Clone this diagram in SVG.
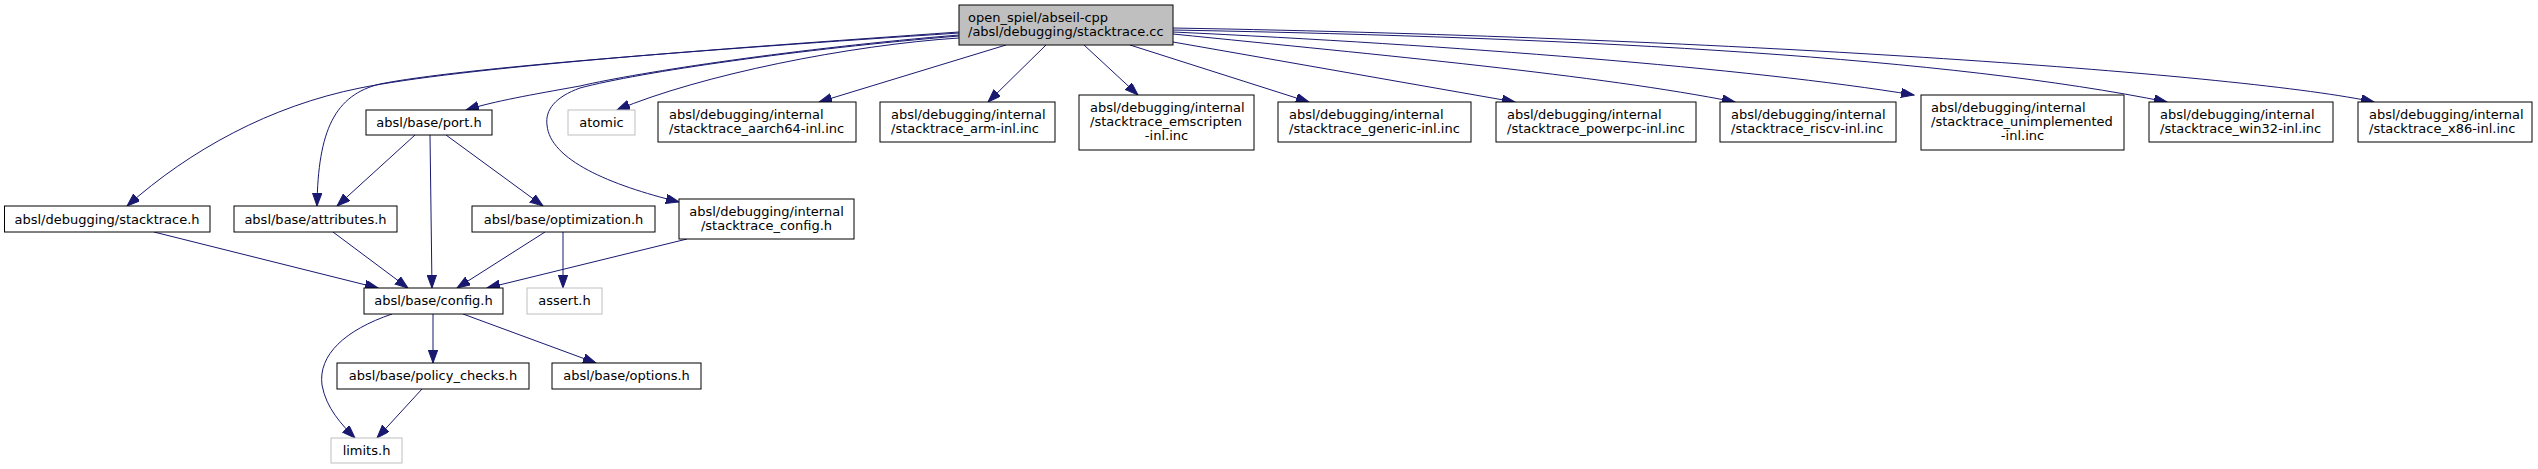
<svg xmlns="http://www.w3.org/2000/svg" width="2538" height="469" viewBox="0 0 2538 469">
<style>
text{font-family:"DejaVu Sans","Liberation Sans",sans-serif;font-size:13px;fill:#000}
.c{text-anchor:middle}
.n{fill:#fff;stroke:#000;stroke-width:1}
.r{fill:#bfbfbf;stroke:#000;stroke-width:1}
.s{fill:#fff;stroke:#bfbfbf;stroke-width:1}
.e{fill:none;stroke:#191970;stroke-width:1;marker-end:url(#a)}
</style>
<defs>
<marker id="a" markerUnits="userSpaceOnUse" markerWidth="14" markerHeight="10" refX="13" refY="4.7" orient="auto" viewBox="0 0 14 10">
<path d="M0,0 L13,4.7 L0,9.4 z" fill="#191970" stroke="#191970" stroke-width="1"/>
</marker>
</defs>
<g id="edges">
<path class="e" d="M959,32 C700,50 460,68 360,88 C270,106 190,150 127,206"/>
<path class="e" d="M959,33 C700,50 460,68 380,84 C335,95 318,130 317,206"/>
<path class="e" d="M959,35 C800,48 640,72 580,86 C530,95 495,101 466,110"/>
<path class="e" d="M959,36 C800,49 640,72 580,88 C555,97 545,110 547,125 C550,160 610,185 679,202"/>
<path class="e" d="M959,38 C850,45 700,75 617,110"/>
<path class="e" d="M1006,45 L819,102"/>
<path class="e" d="M1046,45 L988,102"/>
<path class="e" d="M1084,45 L1138,95"/>
<path class="e" d="M1130,45 L1309,102"/>
<path class="e" d="M1173,42 L1515,102"/>
<path class="e" d="M1173,34 C1380,55 1600,75 1735,102"/>
<path class="e" d="M1173,32 C1450,45 1750,68 1914,95"/>
<path class="e" d="M1173,30 C1600,38 1950,58 2167,102"/>
<path class="e" d="M1173,28 C1750,38 2250,75 2374,102"/>
<path class="e" d="M415,135 L337,206"/>
<path class="e" d="M430,135 L432,288"/>
<path class="e" d="M446,135 L543,206"/>
<path class="e" d="M154,232 L378,288"/>
<path class="e" d="M333,232 L408,288"/>
<path class="e" d="M545,232 L457,288"/>
<path class="e" d="M563,232 L563,288"/>
<path class="e" d="M687,239 L487,288"/>
<path class="e" d="M433,314 L433,363"/>
<path class="e" d="M463,314 L596,363"/>
<path class="e" d="M392,314 C345,330 318,355 322,385 C326,408 342,425 355,438"/>
<path class="e" d="M422,389 L377,438"/>
</g>
<g id="root"><rect class="r" x="959" y="5" width="214" height="40"/><text x="968" y="22">open_spiel/abseil-cpp</text><text x="968" y="36">/absl/debugging/stacktrace.cc</text></g>
<g id="stacktrace_h"><rect class="n" x="4.5" y="206" width="205.5" height="26"/><text class="c" x="107" y="223.5">absl/debugging/stacktrace.h</text></g>
<g id="attributes_h"><rect class="n" x="234" y="206" width="163" height="26"/><text class="c" x="315.5" y="223.5">absl/base/attributes.h</text></g>
<g id="port_h"><rect class="n" x="366" y="110" width="126" height="25"/><text class="c" x="429" y="127">absl/base/port.h</text></g>
<g id="atomic"><rect class="s" x="568" y="110" width="67" height="25"/><text class="c" x="601.5" y="127">atomic</text></g>
<g id="aarch64"><rect class="n" x="658" y="102" width="198" height="40"/><text x="669" y="119">absl/debugging/internal</text><text x="669" y="133">/stacktrace_aarch64-inl.inc</text></g>
<g id="arm"><rect class="n" x="880" y="102" width="175" height="40"/><text x="891" y="119">absl/debugging/internal</text><text x="891" y="133">/stacktrace_arm-inl.inc</text></g>
<g id="emscripten"><rect class="n" x="1079" y="95" width="175" height="55"/><text x="1090" y="112">absl/debugging/internal</text><text x="1090" y="126">/stacktrace_emscripten</text><text class="c" x="1166.5" y="140">-inl.inc</text></g>
<g id="generic"><rect class="n" x="1278" y="102" width="193" height="40"/><text x="1289" y="119">absl/debugging/internal</text><text x="1289" y="133">/stacktrace_generic-inl.inc</text></g>
<g id="powerpc"><rect class="n" x="1496" y="102" width="200" height="40"/><text x="1507" y="119">absl/debugging/internal</text><text x="1507" y="133">/stacktrace_powerpc-inl.inc</text></g>
<g id="riscv"><rect class="n" x="1720" y="102" width="176" height="40"/><text x="1731" y="119">absl/debugging/internal</text><text x="1731" y="133">/stacktrace_riscv-inl.inc</text></g>
<g id="unimplemented"><rect class="n" x="1921" y="95" width="203" height="55"/><text x="1931" y="112">absl/debugging/internal</text><text x="1931" y="126">/stacktrace_unimplemented</text><text class="c" x="2022.5" y="140">-inl.inc</text></g>
<g id="win32"><rect class="n" x="2149" y="102" width="184" height="40"/><text x="2160" y="119">absl/debugging/internal</text><text x="2160" y="133">/stacktrace_win32-inl.inc</text></g>
<g id="x86"><rect class="n" x="2358" y="102" width="174" height="40"/><text x="2369" y="119">absl/debugging/internal</text><text x="2369" y="133">/stacktrace_x86-inl.inc</text></g>
<g id="optimization_h"><rect class="n" x="472" y="206" width="183" height="26"/><text class="c" x="563.5" y="223.5">absl/base/optimization.h</text></g>
<g id="stacktrace_config_h"><rect class="n" x="679" y="199" width="175" height="40"/><text class="c" x="766.5" y="216">absl/debugging/internal</text><text class="c" x="766.5" y="230">/stacktrace_config.h</text></g>
<g id="config_h"><rect class="n" x="364" y="288" width="139" height="26"/><text class="c" x="433.5" y="305">absl/base/config.h</text></g>
<g id="assert_h"><rect class="s" x="527" y="288" width="75" height="26"/><text class="c" x="564.5" y="305">assert.h</text></g>
<g id="policy_checks_h"><rect class="n" x="337" y="363" width="192" height="26"/><text class="c" x="433" y="380">absl/base/policy_checks.h</text></g>
<g id="options_h"><rect class="n" x="552" y="363" width="149" height="26"/><text class="c" x="626.5" y="380">absl/base/options.h</text></g>
<g id="limits_h"><rect class="s" x="331" y="438" width="71" height="25"/><text class="c" x="366.5" y="455">limits.h</text></g>
</svg>
